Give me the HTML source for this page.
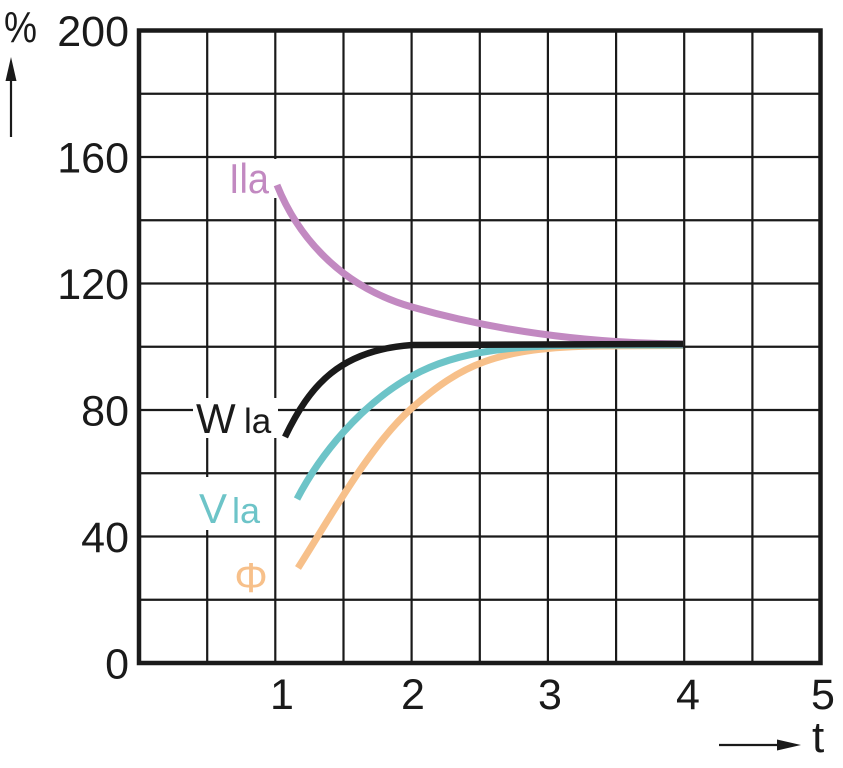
<!DOCTYPE html>
<html><head><meta charset="utf-8"><style>
html,body{margin:0;padding:0;background:#fff;}
svg{display:block;}
text{font-family:"Liberation Sans",Arial,sans-serif;}
</style></head><body>
<svg width="843" height="768" viewBox="0 0 843 768" xmlns="http://www.w3.org/2000/svg">
<rect width="843" height="768" fill="#fff"/>
<g stroke="#1a1a1a" stroke-width="2.2" fill="none">
<line x1="207.2" y1="30.5" x2="207.2" y2="663"/>
<line x1="275.3" y1="30.5" x2="275.3" y2="663"/>
<line x1="343.5" y1="30.5" x2="343.5" y2="663"/>
<line x1="411.6" y1="30.5" x2="411.6" y2="663"/>
<line x1="479.8" y1="30.5" x2="479.8" y2="663"/>
<line x1="547.9" y1="30.5" x2="547.9" y2="663"/>
<line x1="616.1" y1="30.5" x2="616.1" y2="663"/>
<line x1="684.2" y1="30.5" x2="684.2" y2="663"/>
<line x1="752.4" y1="30.5" x2="752.4" y2="663"/>
<line x1="139" y1="93.75" x2="820.5" y2="93.75"/>
<line x1="139" y1="157" x2="820.5" y2="157"/>
<line x1="139" y1="220.25" x2="820.5" y2="220.25"/>
<line x1="139" y1="283.5" x2="820.5" y2="283.5"/>
<line x1="139" y1="346.75" x2="820.5" y2="346.75"/>
<line x1="139" y1="410" x2="820.5" y2="410"/>
<line x1="139" y1="473.25" x2="820.5" y2="473.25"/>
<line x1="139" y1="536.5" x2="820.5" y2="536.5"/>
<line x1="139" y1="599.75" x2="820.5" y2="599.75"/>
</g>
<rect x="139" y="30.5" width="681.5" height="632.5" fill="none" stroke="#1a1a1a" stroke-width="4.5"/>
<!-- label backgrounds -->
<rect x="224" y="159" width="56" height="39" fill="#fff"/>
<rect x="193" y="398" width="85" height="40" fill="#fff"/>
<rect x="196" y="477" width="66" height="53" fill="#fff"/>
<!-- curves -->
<g fill="none" stroke-linejoin="round" stroke-linecap="butt">
<path stroke="#f7c08a" stroke-width="7" d="M298,568 C330,518 370,445 412,408 C460,366 495,347 600,346 L683,345.5"/>
<path stroke="#6dc4c8" stroke-width="7" d="M297,499 C320,455 360,405 412,376 C460,349 520,345 600,345 L683,345"/>
<path stroke="#c289c1" stroke-width="7" d="M277,185 C295,230 335,285 412,307 C468,323 560,343 683,344"/>
<path stroke="#1a1a1a" stroke-width="6.5" d="M285,437 C310,385 340,350 412,345 L683,344"/>
</g>
<!-- labels -->
<text x="229" y="193" font-size="42" fill="#c289c1" textLength="40" lengthAdjust="spacingAndGlyphs">Ila</text>
<text x="196" y="433" font-size="42" fill="#1a1a1a">W</text>
<text x="244" y="433" font-size="35" fill="#1a1a1a">la</text>
<text x="199" y="523" font-size="42" fill="#6dc4c8">V</text>
<text x="232" y="523" font-size="36" fill="#6dc4c8">la</text>
<text x="251" y="592" font-size="42" fill="#f7c08a" text-anchor="middle">Φ</text>
<!-- y ticks -->
<g font-size="43" fill="#1a1a1a" text-anchor="end">
<text x="129" y="46">200</text>
<text x="129" y="172.5">160</text>
<text x="129" y="299">120</text>
<text x="129" y="425.5">80</text>
<text x="129" y="552">40</text>
<text x="129" y="678.5">0</text>
</g>
<!-- x ticks -->
<g font-size="43" fill="#1a1a1a" text-anchor="middle">
<text x="282" y="709">1</text>
<text x="413" y="709">2</text>
<text x="550" y="709">3</text>
<text x="688" y="709">4</text>
<text x="823" y="709">5</text>
</g>
<text x="4" y="42" font-size="44" fill="#1a1a1a" textLength="33" lengthAdjust="spacingAndGlyphs">%</text>
<line x1="11" y1="137" x2="11" y2="75" stroke="#1a1a1a" stroke-width="2.2"/>
<polygon points="11,57 5.5,81 16.5,81" fill="#1a1a1a"/>
<line x1="719" y1="745" x2="785" y2="745" stroke="#1a1a1a" stroke-width="2.2"/>
<polygon points="801,745 777,739.5 777,750.5" fill="#1a1a1a"/>
<text x="812" y="752" font-size="44" fill="#1a1a1a">t</text>
</svg>
</body></html>
